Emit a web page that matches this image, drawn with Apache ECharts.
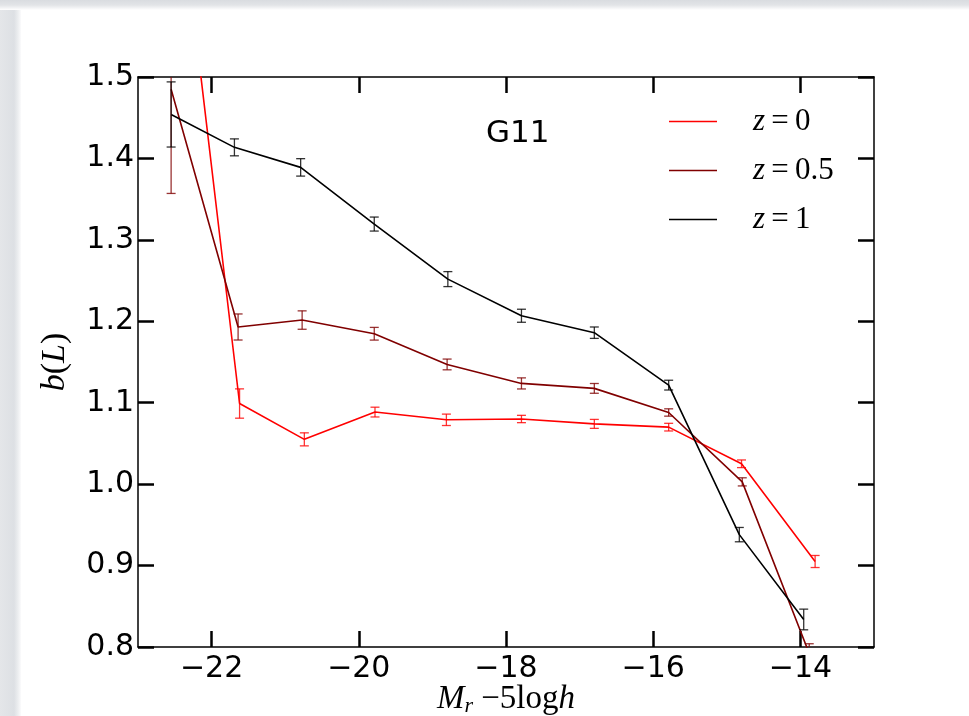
<!DOCTYPE html>
<html>
<head>
<meta charset="utf-8">
<script src="https://cdn.jsdelivr.net/npm/echarts@6/dist/echarts.min.js"></script>
<style>
html,body{margin:0;padding:0;background:#fff;}
#wrap{position:relative;width:969px;height:716px;overflow:hidden;background:#fff;}
#leftbar{position:absolute;left:0;top:0;width:21px;height:716px;background:linear-gradient(to right,#e4e6e9 0px,#dde0e4 14px,#eceef0 18px,#fbfbfc 21px);}
#topbar{position:absolute;left:0;top:0;width:969px;height:10px;background:linear-gradient(to bottom,#d9dce0 0px,#e2e4e7 5px,#f3f4f5 8px,#ffffff 10px);}
#chart{position:absolute;left:0;top:0;width:969px;height:716px;}
</style>
</head>
<body>
<div id="wrap">
<div id="leftbar"></div>
<div id="topbar"></div>
<div id="chart"></div>
</div>
<script>
// ---- data ----
const seriesNames = ['z=0', 'z=0.5', 'z=1'];

const magZ0  = [-22.55, -21.62, -20.74, -19.78, -18.81, -17.79, -16.80, -15.79, -14.80, -13.80];
const biasZ0 = [1.81, 1.099, 1.055, 1.0885, 1.079, 1.080, 1.074, 1.070, 1.025, 0.905];
const errZ0  = [0.030, 0.018, 0.008, 0.006, 0.007, 0.0045, 0.0055, 0.0047, 0.0047, 0.0074];

const magZ05  = [-22.55, -21.64, -20.77, -19.79, -18.80, -17.79, -16.80, -15.79, -14.79, -13.88];
const biasZ05 = [1.485, 1.193, 1.2015, 1.1847, 1.147, 1.1237, 1.1176, 1.088, 1.0028, 0.792];
const errZ05  = [0.128, 0.016, 0.0113, 0.0078, 0.0066, 0.0068, 0.006, 0.0045, 0.005, 0.012];

const magZ1  = [-22.55, -21.69, -20.79, -19.79, -18.79, -17.79, -16.80, -15.79, -14.83, -13.955];
const biasZ1 = [1.454, 1.4136, 1.389, 1.3194, 1.2518, 1.2068, 1.186, 1.1216, 0.938, 0.8338];
const errZ1  = [0.040, 0.0104, 0.0107, 0.0086, 0.0092, 0.008, 0.007, 0.006, 0.0088, 0.0127];

const xTicks = [-22, -20, -18, -16, -14];
const yTicks = [0.8, 0.9, 1.0, 1.1, 1.2, 1.3, 1.4, 1.5];
const colors = ['#ff0000', '#800000', '#000000'];
const panelLabel = 'G11';

// ---- chart ----
const chart = echarts.init(document.getElementById('chart'), null, {renderer: 'canvas'});

function pts(xs, ys) { return xs.map((x, i) => [x, ys[i]]); }
function errPts(xs, ys, es) { return xs.map((x, i) => [x, ys[i], es[i]]); }

function errRender(color) {
  return function (params, api) {
    const x = api.value(0), y = api.value(1), e = api.value(2);
    const t = api.coord([x, y + e]);
    const b = api.coord([x, y - e]);
    const w = 4.5;
    const st = {stroke: color, lineWidth: 1.3, opacity: 0.8};
    return {
      type: 'group',
      children: [
        {type: 'line', shape: {x1: t[0], y1: t[1], x2: b[0], y2: b[1]}, style: st},
        {type: 'line', shape: {x1: t[0] - w, y1: t[1], x2: t[0] + w, y2: t[1]}, style: st},
        {type: 'line', shape: {x1: b[0] - w, y1: b[1], x2: b[0] + w, y2: b[1]}, style: st}
      ]
    };
  };
}

const tickFont = {fontFamily: 'DejaVu Sans', fontSize: 30, color: '#000'};
const minusFmt = v => (v < 0 ? '\u2212' : '') + Math.abs(v);

const baseX = {
  type: 'value', min: -23, max: -13,
  axisLine: {show: true, onZero: false, lineStyle: {color: '#000', width: 1.5}},
  axisTick: {show: true, inside: true, length: 16, customValues: xTicks, lineStyle: {color: '#000', width: 2.5}},
  splitLine: {show: false}
};
const baseY = {
  type: 'value', min: 0.8, max: 1.5,
  axisLine: {show: true, onZero: false, lineStyle: {color: '#000', width: 1.5}},
  axisTick: {show: true, inside: true, length: 16, customValues: yTicks, lineStyle: {color: '#000', width: 2.5}},
  splitLine: {show: false}
};

const lineSeries = [
  [magZ0, biasZ0], [magZ05, biasZ05], [magZ1, biasZ1]
].map((d, i) => ({
  name: seriesNames[i], type: 'line', data: pts(d[0], d[1]),
  symbol: 'none', clip: true, z: 3,
  lineStyle: {color: colors[i], width: 1.6}, itemStyle: {color: colors[i]}
}));

const errSeries = [
  [magZ0, biasZ0, errZ0], [magZ05, biasZ05, errZ05], [magZ1, biasZ1, errZ1]
].map((d, i) => ({
  name: seriesNames[i] + ' err', type: 'custom', clip: true, z: 4,
  renderItem: errRender(colors[i]), data: errPts(d[0], d[1], d[2]),
  encode: {x: 0, y: 1}
}));

const option = {
  animation: false,
  backgroundColor: 'transparent',
  grid: {left: 138, right: 95, top: 77, bottom: 69, containLabel: false, outerBoundsMode: 'none'},
  title: {
    text: panelLabel, left: 486, top: 118, padding: 0,
    textStyle: {fontFamily: 'DejaVu Sans', fontSize: 31, fontWeight: 'normal', color: '#000'}
  },
  legend: {
    orient: 'vertical', left: 669, top: 106, padding: 0,
    itemWidth: 48, itemHeight: 1.6, itemGap: 18, icon: 'rect',
    data: seriesNames,
    formatter: name => '{i|z}{n|\u2009=\u2009' + name.split('=')[1] + '}',
    textStyle: {
      rich: {
        i: {fontFamily: 'Liberation Serif', fontStyle: 'italic', fontSize: 31, lineHeight: 30, color: '#000', padding: [0, 0, 0, 31]},
        n: {fontFamily: 'Liberation Serif', fontSize: 31, lineHeight: 30, color: '#000'}
      }
    }
  },
  xAxis: [
    Object.assign({}, baseX, {
      position: 'bottom',
      axisLabel: Object.assign({show: true, margin: 7, customValues: xTicks, formatter: minusFmt}, tickFont),
      name: '{i|M}{s|r}{n|\u22125log}{i|h}',
      nameLocation: 'middle', nameGap: 34, nameMoveOverlap: false,
      nameTextStyle: {
        rich: {
          i: {fontFamily: 'Liberation Serif', fontStyle: 'italic', fontSize: 33, lineHeight: 36, color: '#000'},
          s: {fontFamily: 'Liberation Serif', fontStyle: 'italic', fontSize: 22, lineHeight: 20, verticalAlign: 'bottom', padding: [0, 8, 0, 0], color: '#000'},
          n: {fontFamily: 'Liberation Serif', fontSize: 33, lineHeight: 36, color: '#000'}
        }
      }
    }),
    Object.assign({}, baseX, {position: 'top', axisLabel: {show: false}})
  ],
  yAxis: [
    Object.assign({}, baseY, {
      position: 'left',
      axisLabel: Object.assign({show: true, margin: 4, customValues: yTicks, formatter: v => v.toFixed(1)}, tickFont),
      name: '{i|b}{n|(}{i|L}{n|)}',
      nameLocation: 'middle', nameGap: 66, nameRotate: 90, nameMoveOverlap: false,
      nameTextStyle: {
        rich: {
          i: {fontFamily: 'Liberation Serif', fontStyle: 'italic', fontSize: 34, color: '#000'},
          n: {fontFamily: 'Liberation Serif', fontSize: 34, color: '#000'}
        }
      }
    }),
    Object.assign({}, baseY, {position: 'right', axisLabel: {show: false}})
  ],
  series: lineSeries.concat(errSeries)
};

chart.setOption(option);
</script>
</body>
</html>
